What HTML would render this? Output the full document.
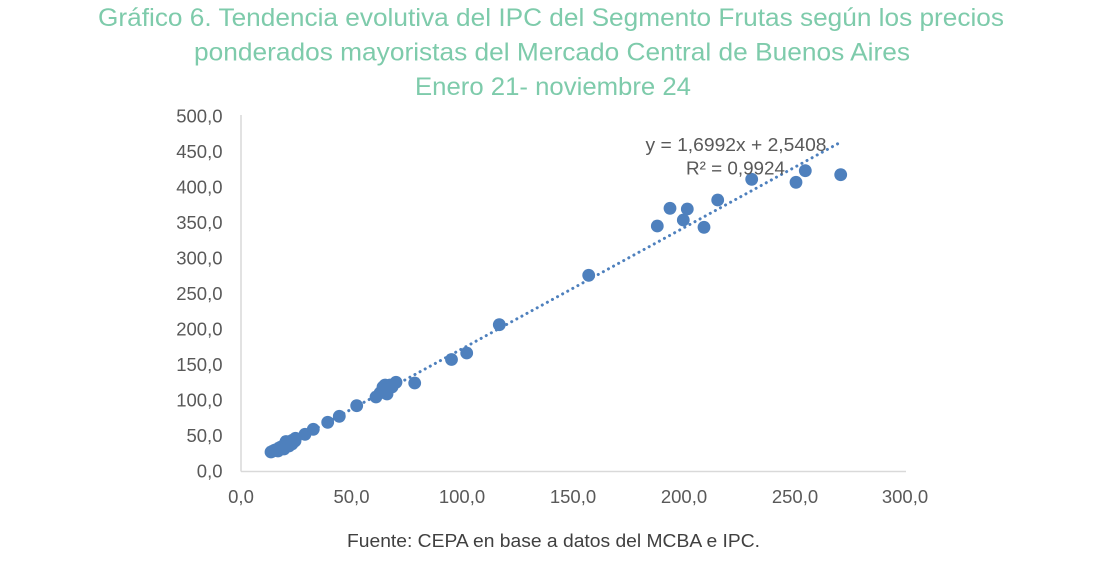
<!DOCTYPE html>
<html>
<head>
<meta charset="utf-8">
<style>
html,body{margin:0;padding:0;background:#fff;}
body{width:1098px;height:566px;overflow:hidden;}
svg{display:block;}
text{font-family:"Liberation Sans",Arial,sans-serif;}
</style>
</head>
<body>
<svg width="1098" height="566" viewBox="0 0 1098 566" xmlns="http://www.w3.org/2000/svg">
  <!-- Title -->
  <g fill="#7ecbab" font-size="25" text-anchor="middle">
    <text x="551" y="26" textLength="906" lengthAdjust="spacingAndGlyphs">Gráfico 6. Tendencia evolutiva del IPC del Segmento Frutas según los precios</text>
    <text x="552" y="60.5" textLength="716" lengthAdjust="spacingAndGlyphs">ponderados mayoristas del Mercado Central de Buenos Aires</text>
    <text x="553" y="95" textLength="276" lengthAdjust="spacingAndGlyphs">Enero 21- noviembre 24</text>
  </g>

  <!-- Axes -->
  <line x1="241" y1="115" x2="241" y2="471.5" stroke="#d9d9d9" stroke-width="1.5"/>
  <line x1="241" y1="471.5" x2="906" y2="471.5" stroke="#d9d9d9" stroke-width="1.5"/>

  <!-- Y labels -->
  <g fill="#595959" font-size="18.5" text-anchor="end">
    <text x="222.5" y="122.5">500,0</text>
    <text x="222.5" y="158">450,0</text>
    <text x="222.5" y="193.5">400,0</text>
    <text x="222.5" y="229">350,0</text>
    <text x="222.5" y="264.5">300,0</text>
    <text x="222.5" y="300">250,0</text>
    <text x="222.5" y="335.5">200,0</text>
    <text x="222.5" y="371">150,0</text>
    <text x="222.5" y="406.5">100,0</text>
    <text x="222.5" y="442">50,0</text>
    <text x="222.5" y="477.5">0,0</text>
  </g>

  <!-- X labels -->
  <g fill="#595959" font-size="18.5" text-anchor="middle">
    <text x="241" y="503">0,0</text>
    <text x="351.5" y="503">50,0</text>
    <text x="462" y="503">100,0</text>
    <text x="573" y="503">150,0</text>
    <text x="684" y="503">200,0</text>
    <text x="795" y="503">250,0</text>
    <text x="905" y="503">300,0</text>
  </g>

  <!-- Trend line -->
  <line x1="272.4" y1="452.3" x2="838.2" y2="143.5" stroke="#4e80bd" stroke-width="3" stroke-linecap="round" stroke-dasharray="0.1 5.7"/>

  <!-- Points -->
  <g fill="#4e80bd">
    <circle cx="271" cy="452" r="6.4"/>
    <circle cx="273" cy="451" r="6.4"/>
    <circle cx="275" cy="450" r="6.4"/>
    <circle cx="277" cy="449.5" r="6.4"/>
    <circle cx="278" cy="451" r="6.4"/>
    <circle cx="279" cy="448" r="6.4"/>
    <circle cx="281" cy="447" r="6.4"/>
    <circle cx="283" cy="446" r="6.4"/>
    <circle cx="284" cy="449" r="6.4"/>
    <circle cx="285" cy="445" r="6.4"/>
    <circle cx="286" cy="441.5" r="6.4"/>
    <circle cx="287" cy="444" r="6.4"/>
    <circle cx="289" cy="446" r="6.4"/>
    <circle cx="289" cy="442.5" r="6.4"/>
    <circle cx="291" cy="441" r="6.4"/>
    <circle cx="292" cy="444" r="6.4"/>
    <circle cx="293" cy="440" r="6.4"/>
    <circle cx="295" cy="441" r="6.4"/>
    <circle cx="295.5" cy="438.3" r="6.4"/>
    <circle cx="305" cy="434.3" r="6.4"/>
    <circle cx="313.3" cy="429.3" r="6.4"/>
    <circle cx="327.7" cy="422.3" r="6.4"/>
    <circle cx="339.3" cy="416.3" r="6.4"/>
    <circle cx="356.7" cy="405.7" r="6.4"/>
    <circle cx="376" cy="397" r="6.4"/>
    <circle cx="380" cy="393" r="6.4"/>
    <circle cx="383" cy="387" r="6.4"/>
    <circle cx="384" cy="390" r="6.4"/>
    <circle cx="385" cy="385" r="6.4"/>
    <circle cx="387" cy="394" r="6.4"/>
    <circle cx="388" cy="388" r="6.4"/>
    <circle cx="390" cy="385" r="6.4"/>
    <circle cx="392" cy="387" r="6.4"/>
    <circle cx="396" cy="382.3" r="6.4"/>
    <circle cx="414.7" cy="383" r="6.4"/>
    <circle cx="451.5" cy="359.5" r="6.4"/>
    <circle cx="466.7" cy="353" r="6.4"/>
    <circle cx="499.3" cy="324.7" r="6.4"/>
    <circle cx="588.7" cy="275.3" r="6.4"/>
    <circle cx="657.3" cy="226" r="6.4"/>
    <circle cx="670" cy="208.3" r="6.4"/>
    <circle cx="683.3" cy="220" r="6.4"/>
    <circle cx="687.3" cy="209" r="6.4"/>
    <circle cx="704" cy="227.3" r="6.4"/>
    <circle cx="717.7" cy="200" r="6.4"/>
    <circle cx="751.7" cy="179.3" r="6.4"/>
    <circle cx="796" cy="182.3" r="6.4"/>
    <circle cx="805.3" cy="170.7" r="6.4"/>
    <circle cx="840.7" cy="174.7" r="6.4"/>
  </g>

  <!-- Equation -->
  <g fill="#595959" font-size="18.5" text-anchor="middle">
    <text x="736" y="151" textLength="181" lengthAdjust="spacingAndGlyphs">y = 1,6992x + 2,5408</text>
    <text x="735.5" y="174.5" textLength="99" lengthAdjust="spacingAndGlyphs">R² = 0,9924</text>
  </g>

  <!-- Source -->
  <text x="553.5" y="547" fill="#404040" font-size="18.5" text-anchor="middle" textLength="413" lengthAdjust="spacingAndGlyphs">Fuente: CEPA en base a datos del MCBA e IPC.</text>
</svg>
</body>
</html>
